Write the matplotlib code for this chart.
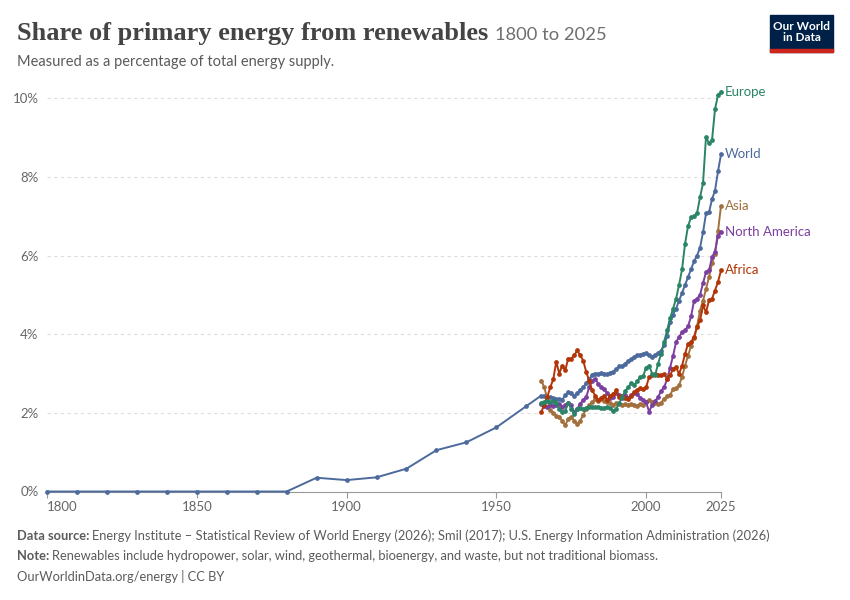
import matplotlib.pyplot as plt
from matplotlib.patches import Rectangle

plt.rcParams['font.family'] = ['Lato', 'DejaVu Sans']

# World long-run series (decadal before 1965)
years_hist = [1800, 1810, 1820, 1830, 1840, 1850, 1860, 1870, 1880,
              1890, 1900, 1910, 1920, 1930, 1940, 1950, 1960]
world_hist = [0, 0, 0, 0, 0, 0, 0, 0, 0,
              0.35, 0.29, 0.36, 0.58, 1.05, 1.25, 1.63, 2.17]

# annual values 1965-2025
years = list(range(1965, 2026))

world = [2.44, 2.42, 2.41, 2.40, 2.38, 2.36, 2.34, 2.33, 2.45, 2.52,
         2.50, 2.42, 2.50, 2.57, 2.65, 2.75, 2.85, 2.97, 3.00, 2.99,
         3.02, 3.00, 2.98, 3.02, 3.05, 3.12, 3.18, 3.20, 3.25, 3.32,
         3.36, 3.42, 3.46, 3.48, 3.50, 3.52, 3.46, 3.42, 3.48, 3.52,
         3.58, 3.72, 3.95, 4.30, 4.50, 4.65, 4.85, 5.05, 5.25, 5.45,
         5.65, 5.85, 6.00, 6.20, 6.59, 7.07, 7.10, 7.43, 7.65, 8.14, 8.57]

europe = [2.25, 2.28, 2.30, 2.27, 2.30, 2.25, 2.10, 2.02, 2.05, 2.25,
          2.10, 1.98, 2.10, 2.12, 2.10, 2.12, 2.15, 2.15, 2.15, 2.15,
          2.13, 2.12, 2.15, 2.12, 2.05, 2.10, 2.25, 2.40, 2.55, 2.65,
          2.75, 2.70, 2.80, 2.90, 2.93, 3.15, 3.20, 3.00, 2.95, 3.25,
          3.50, 3.80, 4.10, 4.40, 4.65, 4.90, 5.25, 5.65, 6.30, 6.75,
          6.97, 7.00, 7.08, 7.48, 7.84, 9.02, 8.85, 8.93, 9.72, 10.08, 10.16]

asia = [2.82, 2.65, 2.36, 2.06, 2.00, 1.93, 1.90, 1.80, 1.68, 1.85,
        1.90, 1.80, 1.72, 1.80, 1.95, 2.10, 2.20, 2.27, 2.35, 2.30,
        2.35, 2.30, 2.28, 2.25, 2.19, 2.25, 2.22, 2.20, 2.22, 2.20,
        2.23, 2.20, 2.18, 2.22, 2.20, 2.27, 2.32, 2.28, 2.25, 2.22,
        2.25, 2.36, 2.42, 2.45, 2.60, 2.62, 2.70, 2.92, 3.20, 3.45,
        3.70, 3.90, 4.20, 4.60, 4.85, 5.15, 5.45, 5.80, 6.05, 6.62, 7.26]

north_america = [2.23, 2.18, 2.15, 2.20, 2.18, 2.20, 2.23, 2.15, 2.20, 2.25,
                 2.20, 2.02, 2.10, 2.23, 2.32, 2.40, 2.65, 2.82, 2.87, 2.74,
                 2.65, 2.60, 2.50, 2.38, 2.40, 2.50, 2.45, 2.38, 2.45, 2.38,
                 2.45, 2.50, 2.48, 2.38, 2.32, 2.27, 2.03, 2.20, 2.30, 2.40,
                 2.55, 2.65, 2.85, 3.15, 3.45, 3.80, 3.93, 4.05, 4.10, 4.20,
                 4.45, 4.85, 4.90, 5.00, 5.30, 5.58, 5.62, 5.96, 6.10, 6.50, 6.60]

africa = [2.02, 2.20, 2.40, 2.65, 2.85, 3.30, 3.00, 3.20, 3.08, 3.38,
          3.38, 3.46, 3.59, 3.46, 3.33, 3.04, 2.82, 2.57, 2.44, 2.32,
          2.38, 2.44, 2.32, 2.44, 2.48, 2.57, 2.40, 2.44, 2.38, 2.36,
          2.44, 2.52, 2.58, 2.62, 2.60, 2.65, 2.91, 2.95, 2.99, 2.97,
          2.95, 2.99, 2.87, 2.95, 3.12, 3.16, 2.99, 3.20, 3.50, 3.76,
          3.80, 3.93, 4.18, 4.35, 4.73, 4.56, 4.86, 4.90, 5.11, 5.33, 5.62]

colors = {"World": "#4c6a9c", "Europe": "#2a8465", "Asia": "#a2703e",
          "North America": "#7b3fa0", "Africa": "#b13507"}

series = {
    "World": (years_hist + years, world_hist + world),
    "Europe": (years, europe),
    "Asia": (years, asia),
    "North America": (years, north_america),
    "Africa": (years, africa),
}

fig = plt.figure(figsize=(8.5, 6), dpi=100)
ax = fig.add_axes([47/850, 1 - 491.5/600, 674/850, 400/600])

for name in ["World", "Asia", "North America", "Africa", "Europe"]:
    x, y = series[name]
    ax.plot(x, y, color=colors[name], lw=1.4, marker='o', ms=2.4,
            clip_on=False, zorder=3)
    ax.text(2025 + 1.2, y[-1], name, color=colors[name], fontsize=9.5,
            va='center', ha='left')

ax.set_xlim(1800, 2025)
ax.set_ylim(0, 10.17)
ax.set_xticks([1800, 1850, 1900, 1950, 2000, 2025])
ax.set_yticks([0, 2, 4, 6, 8, 10])
ax.set_yticklabels([f"{v}%" for v in [0, 2, 4, 6, 8, 10]])
ax.tick_params(axis='x', length=4, width=0.8, color='#999999', pad=3,
               labelsize=9.5, labelcolor='#666666')
ax.tick_params(axis='y', length=0, pad=6, labelsize=9.5, labelcolor='#666666')
ax.get_xticklabels()[0].set_ha('left')
for s in ['top', 'right', 'left']:
    ax.spines[s].set_visible(False)
ax.spines['bottom'].set_color('#999999')
ax.spines['bottom'].set_linewidth(0.8)
ax.yaxis.grid(True, color='#dddddd', linestyle=(0, (3, 3)), lw=0.8)
ax.set_axisbelow(True)

# header
renderer = fig.canvas.get_renderer()
t = fig.text(17/850, 1 - 40/600, "Share of primary energy from renewables",
             family='Liberation Serif', fontsize=19, fontweight='bold',
             color='#444444', va='baseline')
bb = t.get_window_extent(renderer)
fig.text(bb.x1/850 + 7/850, 1 - 40/600, "1800 to 2025", fontsize=13.2,
         color='#6e6e6e', va='baseline')
fig.text(17/850, 1 - 66/600, "Measured as a percentage of total energy supply.",
         fontsize=10.5, color='#5b5b5b', va='baseline')

# logo
fig.patches.append(Rectangle((770/850, 1 - 52/600), 63/850, 37/600,
                             transform=fig.transFigure, color='#002147'))
fig.patches.append(Rectangle((770/850, 1 - 52/600), 63/850, 3/600,
                             transform=fig.transFigure, color='#ce261e'))
fig.text(801.5/850, 1 - 32/600, "Our World\nin Data", color='white',
         fontsize=8.5, ha='center', va='center', linespacing=1.05,
         fontweight='bold')

# footer
def label_line(ypx, bold, rest):
    a = fig.text(17/850, 1 - ypx/600, bold, fontsize=9.25, color='#5b5b5b',
                 fontweight='bold', va='baseline')
    b = a.get_window_extent(renderer)
    fig.text(b.x1/850 + 3/850, 1 - ypx/600, rest, fontsize=9.25,
             color='#5b5b5b', va='baseline')

label_line(540, "Data source:", "Energy Institute \u2013 Statistical Review of World Energy (2026); "
           "Smil (2017); U.S. Energy Information Administration (2026)")
label_line(560, "Note:", "Renewables include hydropower, solar, wind, geothermal, "
           "bioenergy, and waste, but not traditional biomass.")
fig.text(17/850, 1 - 581/600, "OurWorldinData.org/energy | CC BY", fontsize=9.25,
         color='#5b5b5b', va='baseline')

fig.savefig('out.png', dpi=100)
